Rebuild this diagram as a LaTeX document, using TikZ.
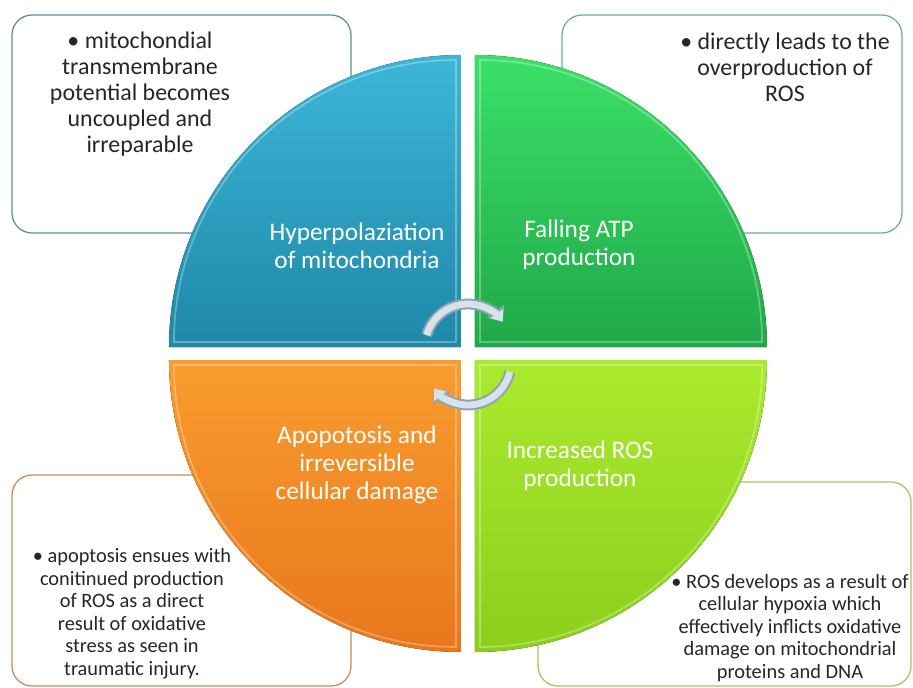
\documentclass[tikz,border=0pt]{standalone}
\usepackage{fontspec}
\setmainfont{Carlito}
\usepackage{tikz}
\usetikzlibrary{arrows.meta}
\pgfdeclarelayer{bg}
\pgfsetlayers{bg,main}
\definecolor{notetext}{HTML}{262626}
\definecolor{hyptop}{HTML}{3CB6D8}
\definecolor{hypbot}{HTML}{1F88A8}
\definecolor{atptop}{HTML}{3BE068}
\definecolor{atpbot}{HTML}{20A848}
\definecolor{apotop}{HTML}{F99C2E}
\definecolor{apobot}{HTML}{E8771C}
\definecolor{rostop}{HTML}{AAEA2E}
\definecolor{rosbot}{HTML}{8BCF1C}
\definecolor{hypline}{HTML}{5F8E9E}
\definecolor{atpline}{HTML}{6DAF8C}
\definecolor{apoline}{HTML}{C48C5E}
\definecolor{rosline}{HTML}{A8C45E}
\definecolor{ringline}{HTML}{8FA3B0}
\definecolor{ringfill}{HTML}{D6E3EC}

\begin{document}
\begin{tikzpicture}[
        notebox/.style={rounded corners=0.5cm, line width=0.9pt, fill=white},
        note/.style={align=center, text=notetext, font=\fontsize{17}{18.4}\selectfont},
        smallnote/.style={align=center, text=notetext, font=\fontsize{14.5}{16}\selectfont},
        quadlabel/.style={align=center, text=white, font=\fontsize{18}{19.8}\selectfont},
        bevel/.style={draw=white, draw opacity=0.3, line width=1.2pt},
        ringedge/.style={line width=0.27cm, draw=ringline, -{Triangle[length=0.32cm,width=0.52cm]}},
        ringface/.style={line width=0.17cm, draw=ringfill, -{Triangle[length=0.25cm,width=0.38cm]}}]
        \useasboundingbox (-11.700cm, 8.8375cm) rectangle (11.125cm, -8.3625cm);
        % note boxes behind the circle
        \begin{pgfonlayer}{bg}
                \draw[notebox, draw=hypline] (-11.400cm, 8.4625cm) rectangle (-2.925cm, 3.0125cm);
                \draw[notebox, draw=atpline] (2.350cm, 8.4625cm) rectangle (10.850cm, 3.0125cm);
                \draw[notebox, draw=apoline] (-11.400cm, -3.0375cm) rectangle (-2.925cm, -8.3125cm);
                \draw[notebox, draw=rosline] (1.750cm, -3.2125cm) rectangle (11.075cm, -8.3125cm);
        \end{pgfonlayer}
        % quadrants
        \fill[top color=hyptop, bottom color=hypbot] (-0.175cm, 0.1625cm) -- ++(-7.3cm, 0) arc (180:90:7.3cm) -- cycle;
        \fill[top color=atptop, bottom color=atpbot] (0.175cm, 0.1625cm) -- ++(0, 7.3cm) arc (90:0:7.3cm) -- cycle;
        \fill[top color=apotop, bottom color=apobot] (-0.175cm, -0.1625cm) -- ++(-7.3cm, 0) arc (180:270:7.3cm) -- cycle;
        \fill[top color=rostop, bottom color=rosbot] (0.175cm, -0.1625cm) -- ++(7.3cm, 0) arc (0:-90:7.3cm) -- cycle;
        \draw[bevel] (-0.300cm, 0.2875cm) -- ++(-7.05cm, 0) arc (180:90:7.05cm) -- cycle;
        \draw[bevel] (0.300cm, 0.2875cm) -- ++(0, 7.05cm) arc (90:0:7.05cm) -- cycle;
        \draw[bevel] (-0.300cm, -0.2875cm) -- ++(-7.05cm, 0) arc (180:270:7.05cm) -- cycle;
        \draw[bevel] (0.300cm, -0.2875cm) -- ++(7.05cm, 0) arc (0:-90:7.05cm) -- cycle;
        % quadrant labels
        \node (hyper) [quadlabel] at (-2.775cm, 2.6875cm) {Hyperpolaziation\\of mitochondria};
        \node (atp) [quadlabel] at (2.775cm, 2.7125cm) {Falling ATP\\production};
        \node (apop) [quadlabel] at (-2.775cm, -2.7875cm) {Apopotosis and\\irreversible\\cellular damage};
        \node (ros) [quadlabel] at (2.800cm, -2.8125cm) {Increased ROS\\production};
        % notes
        \node (hyperNote) [note] at (-8.200cm, 6.4875cm) {\textbullet{} mitochondial\\transmembrane\\potential becomes\\uncoupled and\\irreparable};
        \node (atpNote) [note] at (7.925cm, 7.1625cm) {\textbullet{} directly leads to the\\overproduction of\\ROS};
        \node (apopNote) [smallnote] at (-8.400cm, -6.5000cm) {\textbullet{} apoptosis ensues with\\conitinued production\\of ROS as a direct\\result of oxidative\\stress as seen in\\traumatic injury.};
        \node (rosNote) [smallnote] at (8.050cm, -6.8625cm) {\textbullet{} ROS develops as a result of\\cellular hypoxia which\\effectively inflicts oxidative\\damage on mitochondrial\\proteins and DNA};
        % cycle arrows
        \coordinate (topHub) at (0cm, 0.1625cm);
        \coordinate (lowHub) at (0cm, -0.2125cm);
        \draw[ringedge] (topHub) ++(164:1.075cm) arc (164:36:1.075cm);
        \draw[ringface] (topHub) ++(164:1.075cm) arc (164:36:1.075cm);
        \draw[ringedge] (lowHub) ++(-13:1.075cm) arc (-13:-142:1.075cm);
        \draw[ringface] (lowHub) ++(-13:1.075cm) arc (-13:-142:1.075cm);
\end{tikzpicture}
\end{document}
